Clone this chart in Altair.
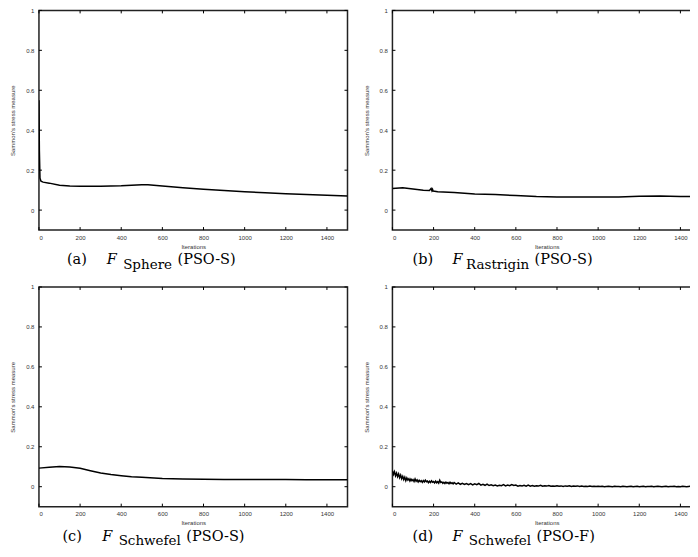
import altair as alt
import pandas as pd

# ---------------- data ----------------
X_TICKS = [0, 200, 400, 600, 800, 1000, 1200, 1400]
Y_TICKS = [0, 0.2, 0.4, 0.6, 0.8, 1]

x_a = [0, 2, 5, 10, 20, 50, 100, 150, 200, 300, 400, 450, 500, 530, 600, 700, 800, 900, 1000, 1100, 1200, 1300, 1400, 1500]
y_a = [0.55, 0.30, 0.16, 0.145, 0.140, 0.135, 0.125, 0.121, 0.120, 0.119, 0.122, 0.125, 0.127, 0.127, 0.121, 0.112, 0.105, 0.098, 0.092, 0.087, 0.082, 0.078, 0.074, 0.071]

x_b = [0, 50, 100, 150, 180, 188, 192, 195, 198, 205, 220, 300, 400, 500, 600, 700, 800, 900, 1000, 1100, 1200, 1300, 1400, 1500]
y_b = [0.108, 0.112, 0.106, 0.100, 0.098, 0.108, 0.097, 0.104, 0.095, 0.094, 0.092, 0.088, 0.081, 0.078, 0.073, 0.068, 0.066, 0.066, 0.066, 0.066, 0.069, 0.071, 0.068, 0.068]

x_c = [0, 50, 100, 150, 200, 250, 300, 350, 400, 450, 500, 600, 700, 800, 900, 1000, 1100, 1200, 1300, 1400, 1500]
y_c = [0.093, 0.097, 0.101, 0.099, 0.092, 0.080, 0.069, 0.061, 0.055, 0.050, 0.047, 0.041, 0.038, 0.037, 0.036, 0.036, 0.036, 0.036, 0.035, 0.035, 0.035]

x_d = list(range(0, 301, 5)) + list(range(310, 1501, 10))
y_d = [0.080, 0.062, 0.075, 0.055, 0.068, 0.050, 0.064, 0.045, 0.058, 0.040,
       0.052, 0.036, 0.048, 0.030, 0.044, 0.033, 0.040, 0.028, 0.038, 0.030,
       0.036, 0.026, 0.039, 0.027, 0.034, 0.024, 0.032, 0.025, 0.030, 0.022,
       0.031, 0.024, 0.033, 0.025, 0.028, 0.020, 0.027, 0.021, 0.029, 0.022,
       0.026, 0.019, 0.028, 0.020, 0.025, 0.018, 0.032, 0.021, 0.024, 0.017,
       0.022, 0.016, 0.023, 0.017, 0.021, 0.015, 0.022, 0.016, 0.020, 0.014,
       0.021,
       0.013, 0.019, 0.012, 0.017, 0.011, 0.016, 0.010, 0.015, 0.009, 0.014,
       0.010, 0.016, 0.008, 0.012, 0.007, 0.013, 0.006, 0.009, 0.005, 0.008,
       0.004, 0.007, 0.005, 0.010, 0.004, 0.008, 0.005, 0.011, 0.006, 0.008,
       0.003, 0.006, 0.004, 0.007, 0.003, 0.008, 0.003, 0.006, 0.002, 0.005,
       0.003, 0.007, 0.002, 0.005, 0.003, 0.006, 0.002, 0.004, 0.002, 0.005,
       0.002, 0.004, 0.001, 0.004, 0.002, 0.005, 0.001, 0.003, 0.002, 0.004,
       0.001, 0.003, 0.001, 0.002, 0.001, 0.003, 0.001, 0.002, 0.001, 0.002,
       0.001, 0.002, 0.000, 0.001, 0.002, 0.001, 0.000, 0.002, 0.001, 0.001,
       0.000, 0.002, 0.001, 0.000, 0.001, 0.002, 0.000, 0.001, 0.002, 0.000,
       0.001, 0.002, 0.000, 0.001, 0.001, 0.002, 0.000, 0.001, 0.002, 0.001,
       0.000, 0.001, 0.002, 0.000, 0.001, 0.001, 0.002, 0.000, 0.001, 0.000,
       0.002, 0.001, 0.000, 0.001, 0.002, 0.000, 0.001, 0.001, 0.000, 0.001]

CAP_LETTER = ["(a)", "(b)", "(c)", "(d)"]
CAP_SUB = ["Sphere", "Rastrigin", "Schwefel", "Schwefel"]
CAP_ALG = ["(PSO-S)", "(PSO-S)", "(PSO-S)", "(PSO-F)"]

# ---------------- layout constants ----------------
W, H = 309, 220
TICK = 3
LABEL_FONT = "Liberation Sans"
CAP_FONT = "DejaVu Serif"
CAP_SIZE = 14.5
SUB_SIZE = 13.5

XAX = alt.Axis(
    values=X_TICKS, title="Iterations", ticks=False, domain=False, grid=False,
    labelFont=LABEL_FONT, labelFontSize=6, labelColor="#333", labelPadding=4,
    titleFont=LABEL_FONT, titleFontSize=6, titleFontWeight="normal", titleColor="#333",
    titlePadding=3, format="d")
YAX = alt.Axis(
    values=Y_TICKS, title="Sammon's stress measure", ticks=False, domain=False, grid=False,
    labelFont=LABEL_FONT, labelFontSize=6, labelColor="#333", labelPadding=5,
    labelExpr="'' + datum.value",
    titleFont=LABEL_FONT, titleFontSize=6, titleFontWeight="normal", titleColor="#333",
    titlePadding=10)


def panel(xs, ys, i, cap_dx, cap_dy):
    df = pd.DataFrame({"x": xs, "y": ys})
    xsc = alt.Scale(domain=[0, 1500], nice=False, zero=False)
    ysc = alt.Scale(domain=[-0.1, 1], nice=False, zero=False)
    line = alt.Chart(df).mark_line(color="black", strokeWidth=1.5, clip=True).encode(
        x=alt.X("x:Q", scale=xsc, axis=XAX),
        y=alt.Y("y:Q", scale=ysc, axis=YAX),
    )
    xt = pd.DataFrame({"x": X_TICKS})
    yt = pd.DataFrame({"y": Y_TICKS})
    tb = alt.Chart(xt).mark_rule(color="black", strokeWidth=1).encode(
        x=alt.X("x:Q", scale=xsc, axis=XAX), y=alt.value(H), y2=alt.value(H - TICK))
    tt = alt.Chart(xt).mark_rule(color="black", strokeWidth=1).encode(
        x=alt.X("x:Q", scale=xsc, axis=XAX), y=alt.value(0), y2=alt.value(TICK))
    tl = alt.Chart(yt).mark_rule(color="black", strokeWidth=1).encode(
        y=alt.Y("y:Q", scale=ysc, axis=YAX), x=alt.value(0), x2=alt.value(TICK))
    tr = alt.Chart(yt).mark_rule(color="black", strokeWidth=1).encode(
        y=alt.Y("y:Q", scale=ysc, axis=YAX), x=alt.value(W), x2=alt.value(W - TICK))

    cap = pd.DataFrame({"l": [CAP_LETTER[i]], "s": [CAP_SUB[i]], "a": [CAP_ALG[i]]})
    base = alt.Chart(cap)
    t1 = base.mark_text(font=CAP_FONT, fontSize=CAP_SIZE, align="left", baseline="middle", color="black").encode(
        text="l:N", x=alt.value(cap_dx[0]), y=alt.value(cap_dy))
    t2 = base.mark_text(font=CAP_FONT, fontSize=CAP_SIZE, fontStyle="italic", align="left", baseline="middle", color="black").encode(
        text=alt.value("F"), x=alt.value(cap_dx[1]), y=alt.value(cap_dy))
    t3 = base.mark_text(font=CAP_FONT, fontSize=SUB_SIZE, align="left", baseline="middle", color="black").encode(
        text="s:N", x=alt.value(cap_dx[2]), y=alt.value(cap_dy + 4.5))
    t4 = base.mark_text(font=CAP_FONT, fontSize=CAP_SIZE, align="left", baseline="middle", color="black").encode(
        text="a:N", x=alt.value(cap_dx[3]), y=alt.value(cap_dy))
    return alt.layer(line, tb, tt, tl, tr, t1, t2, t3, t4).properties(width=W, height=H)


pa = panel(x_a, y_a, 0, [28, 68, 84.3, 138.8], 250)
pb = panel(x_b, y_b, 1, [20.1, 60.1, 73.7, 142.3], 250)
pc = panel(x_c, y_c, 2, [23.5, 63.5, 79.8, 147.6], 250)
pd_ = panel(x_d, y_d, 3, [20.2, 60.2, 76.5, 144.3], 250)

chart = alt.vconcat(
    alt.hconcat(pa, pb, spacing=12),
    alt.hconcat(pc, pd_, spacing=12),
    spacing=11,
).configure_view(stroke="#222", strokeWidth=1.5).properties(
    padding={"left": 0, "top": -2, "right": -13, "bottom": 0}, background="white")

chart.save("out.html", embed_options={"renderer": "svg", "actions": False})
